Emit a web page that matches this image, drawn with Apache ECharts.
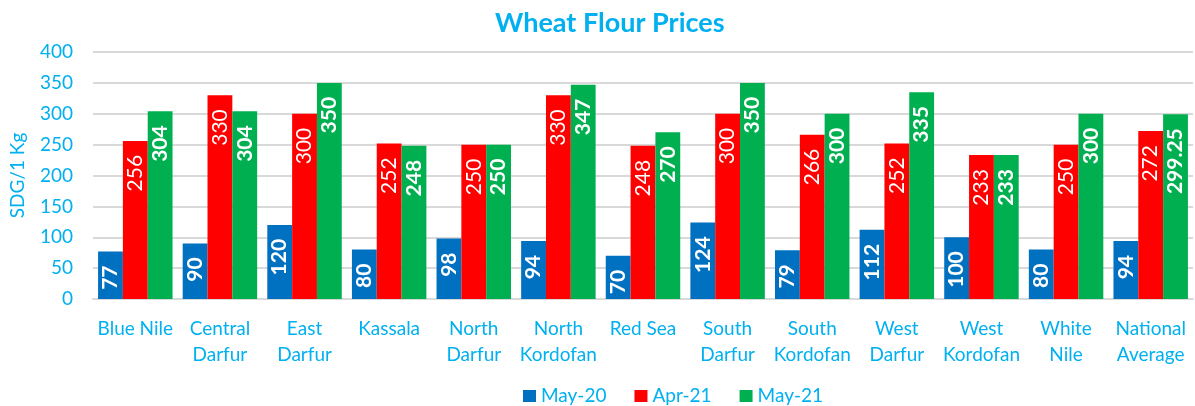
<!DOCTYPE html>
<html>
<head>
<meta charset="utf-8">
<script src="https://cdn.jsdelivr.net/npm/echarts@6/dist/echarts.min.js"></script>
<style>html,body{margin:0;padding:0;background:#fff}#c{width:1195px;height:406px}</style>
</head>
<body>
<div id="c"></div>
<script>
const categories = ["Blue Nile","Central\nDarfur","East\nDarfur","Kassala","North\nDarfur","North\nKordofan","Red Sea","South\nDarfur","South\nKordofan","West\nDarfur","West\nKordofan","White\nNile","National\nAverage"];
const seriesNames = ["May-20","Apr-21","May-21"];
const may20 = [77,90,120,80,98,94,70,124,79,112,100,80,94];
const apr21 = [256,330,300,252,250,330,248,300,266,252,233,250,272];
const may21 = [304,304,350,248,250,347,270,350,300,335,233,300,299.25];
const yTicks = [0,50,100,150,200,250,300,350,400];

const FONT = "Lato";
const BLUE_TXT = "#00B0F0";
const colors = ["#0070C0","#FF0000","#00B050"];
const chart = echarts.init(document.getElementById('c'), null, {renderer:'canvas'});

function mk(name, data, color, bold){
  return {
    name, type:'bar', data, barGap:'0%', barCategoryGap:'12%',
    itemStyle:{color},
    label:{show:true, position:'insideTop', rotate:90, align:'right', verticalAlign:'middle',
      distance:14, color:'#fff', fontFamily:FONT, fontSize:21, fontWeight: bold?'bold':'normal',
      formatter: p => String(p.value)}
  };
}

chart.setOption({
  animation:false,
  title:{text:'Wheat Flour Prices', left:490, top:5,
    textStyle:{color:BLUE_TXT, fontFamily:FONT, fontSize:27, fontWeight:'bold'}},
  grid:{left:93, right:2, top:52, bottom:107, containLabel:false},
  legend:{top:381, left:518, itemWidth:13, itemHeight:12, itemGap:28, icon:'rect',
    textStyle:{color:BLUE_TXT, fontFamily:FONT, fontSize:19, lineHeight:20}, data:seriesNames},
  xAxis:{type:'category', data:categories,
    axisLine:{show:true, lineStyle:{color:'#D9D9D9', width:2}},
    axisTick:{show:false},
    axisLabel:{color:BLUE_TXT, fontFamily:FONT, fontSize:19, lineHeight:26, margin:17, interval:0}},
  yAxis:{type:'value', min:yTicks[0], max:yTicks[yTicks.length-1], interval:50,
    name:'SDG/1 Kg', nameLocation:'middle', nameGap:66, nameRotate:90,
    nameTextStyle:{color:BLUE_TXT, fontFamily:FONT, fontSize:19},
    axisLine:{show:false}, axisTick:{show:false},
    axisLabel:{color:BLUE_TXT, fontFamily:FONT, fontSize:19, margin:20},
    splitLine:{lineStyle:{color:'#D9D9D9', width:2}}},
  series:[mk(seriesNames[0], may20, colors[0], true), mk(seriesNames[1], apr21, colors[1], false), mk(seriesNames[2], may21, colors[2], true)]
});
</script>
</body>
</html>
